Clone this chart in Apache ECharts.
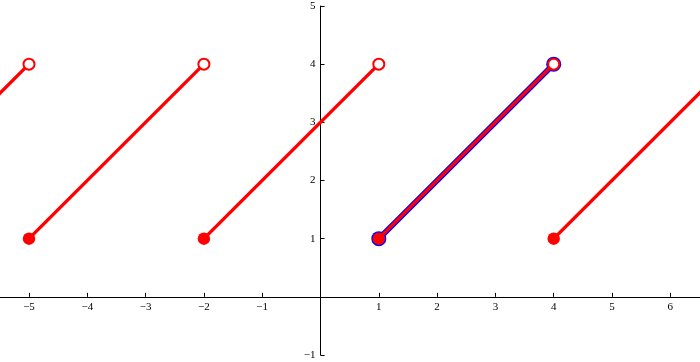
<!DOCTYPE html>
<html><head><meta charset="utf-8">
<script src="https://cdn.jsdelivr.net/npm/echarts@6/dist/echarts.min.js"></script>
<style>html,body{margin:0;padding:0;background:#fff}#c{width:700px;height:362px}</style>
</head><body><div id="c"></div>
<script>
const segStartX = [-8, -5, -2, 1, 4];
const segEndX = [-5, -2, 1, 4, 7];
const segStartY = [1, 1, 1, 1, 1];
const segEndY = [4, 4, 4, 4, 4];
const highlightX = [1, 4];
const highlightY = [1, 4];
const xMin = -6, xMax = 7;
const yMin = -1, yMax = 5;

const fmt = v => v === 0 ? '' : String(v).replace('-', '\u2212');
const series = [];
series.push({
  type: 'line', z: 1, symbol: 'none', silent: true,
  data: highlightX.map((x, i) => [x, highlightY[i]]),
  lineStyle: { color: '#0000ff', width: 5.6 }
});
series.push({
  type: 'scatter', z: 2, symbol: 'circle', symbolSize: 15, silent: true,
  data: highlightX.map((x, i) => [x, highlightY[i]]),
  itemStyle: { color: '#0000ff', opacity: 1 }
});
segStartX.forEach((x0, i) => {
  series.push({
    type: 'line', z: 3, symbol: 'none', silent: true, clip: true,
    data: [[x0, segStartY[i]], [segEndX[i], segEndY[i]]],
    lineStyle: { color: '#ff0000', width: 3.4 }
  });
});
series.push({
  type: 'scatter', z: 4, symbol: 'circle', symbolSize: 12.5, silent: true, clip: true,
  data: segStartX.map((x, i) => [x, segStartY[i]]),
  itemStyle: { color: '#ff0000', opacity: 1 }
});
series.push({
  type: 'scatter', z: 5, symbol: 'circle', symbolSize: 11, silent: true, clip: true,
  data: segEndX.map((x, i) => [x, segEndY[i]]),
  itemStyle: { color: '#ffffff', borderColor: '#ff0000', borderWidth: 2, opacity: 1 }
});

const axisCommon = {
  type: 'value', interval: 1,
  axisLine: { onZero: false, lineStyle: { color: '#000', width: 1 } },
  axisTick: { inside: true, length: 4, lineStyle: { color: '#000' } },
  splitLine: { show: false },
  axisLabel: { formatter: fmt, color: '#000', fontFamily: 'Liberation Serif', fontSize: 11, hideOverlap: false }
};
const chart = echarts.init(document.getElementById('c'));
chart.setOption({
  animation: false,
  backgroundColor: '#fff',
  grid: { left: -29.3, right: -28.6, top: 6, bottom: 7, containLabel: false, outerBoundsMode: 'none' },
  xAxis: Object.assign({}, axisCommon, { min: xMin, max: xMax, position: 'bottom',
    axisLabel: Object.assign({}, axisCommon.axisLabel, { margin: 5 }) }),
  yAxis: Object.assign({}, axisCommon, { min: yMin, max: yMax, position: 'left',
    axisLabel: Object.assign({}, axisCommon.axisLabel, { margin: 5 }) }),
  series: series
});
const corner = chart.convertToPixel({ gridIndex: 0 }, [xMin, yMin]);
const origin = chart.convertToPixel({ gridIndex: 0 }, [0, 0]);
chart.setOption({
  xAxis: { offset: origin[1] - corner[1] },
  yAxis: { offset: corner[0] - origin[0] }
});
</script></body></html>
